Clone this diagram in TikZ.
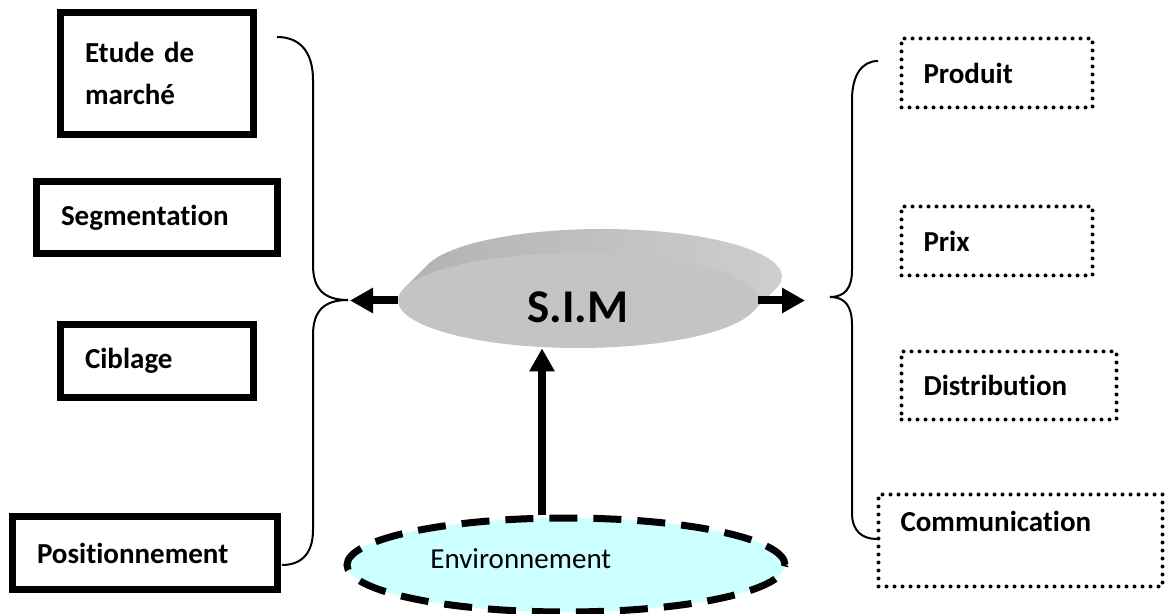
\documentclass[tikz,border=0pt]{standalone}
\usepackage{fontspec}
\setmainfont{Carlito}[Ligatures=NoCommon]
\usepackage{tikz}
\usetikzlibrary{positioning, arrows.meta, shapes.geometric}

\definecolor{simfront}{RGB}{196,196,196}
\definecolor{simedge}{RGB}{178,178,178}
\definecolor{simdark}{RGB}{158,158,158}
\definecolor{simlight}{RGB}{206,206,206}
\definecolor{envfill}{RGB}{204,255,255}

\begin{document}
\begin{tikzpicture}[x=0.5pt, y=-0.5pt,
    thickbox/.style={draw, rectangle, line width=3.5pt, align=left,
        inner xsep=12.25pt, font=\fontsize{14.5}{21}\selectfont\bfseries},
    dotbox/.style={draw, rectangle, line width=2pt, dash pattern=on 0pt off 4pt,
        line cap=round, align=left, inner xsep=11pt,
        font=\fontsize{14.5}{21}\selectfont\bfseries},
    bigarrow/.style={line width=4pt, -{Triangle[length=11.5pt, width=12pt]}},
    bracket/.style={line width=1pt}]
    \useasboundingbox (0,0) rectangle (1166,614);
    % --- left boxes ---
    \node[thickbox, text width=72pt, minimum height=61pt] (etude) at (157,73.5) {Etude de\\marché};
    \node[thickbox, text width=96pt, minimum height=36pt] (segm) at (157,217.5) {Segmentation};
    \node[thickbox, text width=72pt, minimum height=36.5pt] (cibl) at (157,361) {Ciblage};
    \node[thickbox, text width=108pt, minimum height=36.5pt] (posit) at (145,553) {Positionnement};
    % --- right boxes ---
    \node[dotbox, text width=73.5pt, minimum height=34.5pt] (produit) at (997,73) {Produit};
    \node[dotbox, text width=73.5pt, minimum height=34.5pt] (prix) at (997,241) {Prix};
    \node[dotbox, text width=85.5pt, minimum height=34pt] (distrib) at (1009,385.5) {Distribution};
    \node[dotbox, text width=120pt, minimum height=46pt, text height=9pt, text depth=18.5pt] (comm) at (1020.5,540.5) {Communication};
    % --- S.I.M disc (extruded) ---
    \shade[left color=simedge, middle color=simdark, right color=simlight]
        (602,276.5) ellipse [x radius=90pt, y radius=23.75pt]
        (404,288.4) -- (752,312.6) -- (776,288.6) -- (428,264.4) -- cycle;
    \node[ellipse, fill=simfront, minimum width=180pt, minimum height=47.5pt, inner sep=0pt,
        text height=21.5pt, text depth=0pt, font=\fontsize{23.5}{28}\selectfont\bfseries] (sim) at (578,300.5) {S.I.M};
    % --- environment ---
    \node[ellipse, draw, fill=envfill, line width=3.5pt, dash pattern=on 14pt off 8pt,
        minimum width=219pt, minimum height=47pt] (env) at (566,565) {};
    \node[anchor=base west, inner sep=0pt, font=\fontsize{14.5}{21}\selectfont] (envtxt) at (430,568) {Environnement};
    % --- braces ---
    \draw[bracket] (277,37) .. controls (300,37) and (313,52) .. (313,80) -- (313,265)
        .. controls (313,290) and (325,300) .. (348,300)
        .. controls (325,300) and (313,310) .. (313,335) -- (313,530)
        .. controls (313,555) and (300,565) .. (282,565);
    \draw[bracket] (878,61) .. controls (862,61) and (852,75) .. (852,100) -- (852,270)
        .. controls (852,288) and (845,297) .. (830,297)
        .. controls (845,297) and (852,306) .. (852,325) -- (852,513)
        .. controls (852,531) and (862,539) .. (877,539);
    % --- arrows ---
    \coordinate (ltip) at (350,300.5);
    \coordinate (rtip) at (805,300.5);
    \draw[bigarrow] (sim.west) -- (ltip);
    \draw[bigarrow] (sim.east) -- (rtip);
    \draw[bigarrow] ([xshift=-12pt]env.north) -- ([xshift=-12pt]env.north |- sim.south);
\end{tikzpicture}
\end{document}
